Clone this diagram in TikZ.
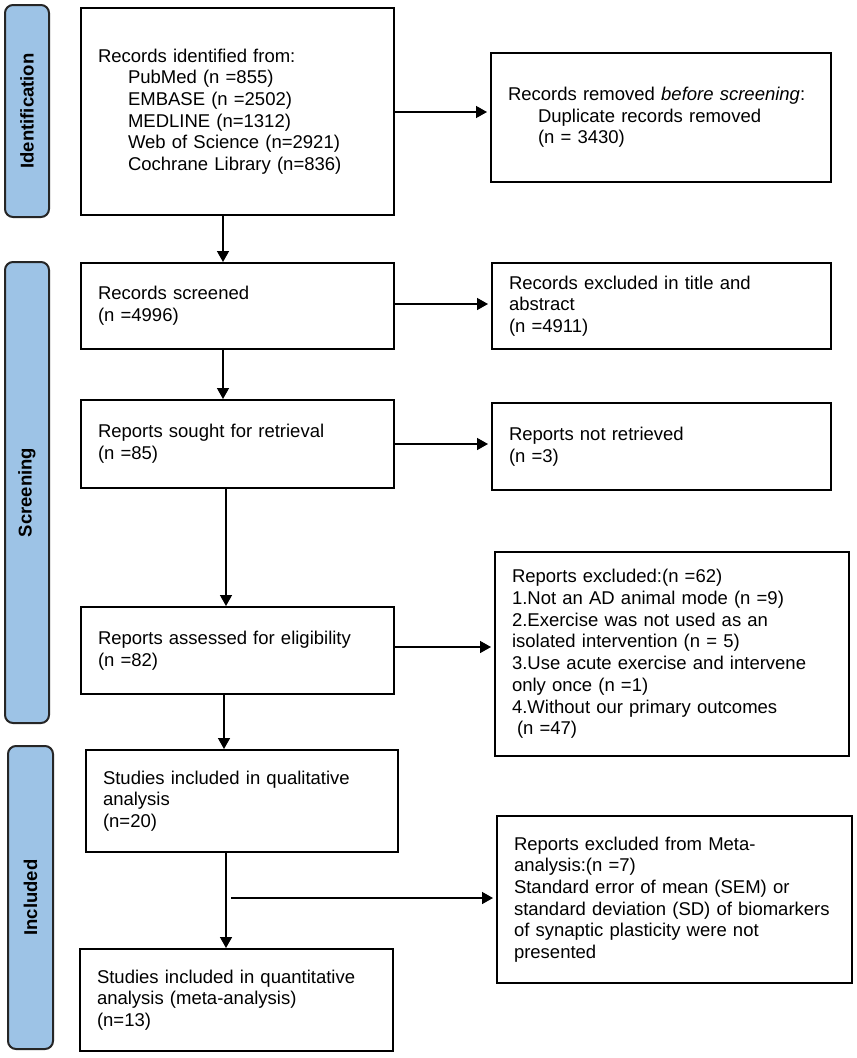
\documentclass[tikz,border=0pt]{standalone}
\usepackage{fontspec}
\setmainfont{Liberation Sans}
\usetikzlibrary{arrows.meta}
\definecolor{sidefill}{HTML}{9DC3E6}
\definecolor{sidedraw}{HTML}{262626}
\begin{document}
\begin{tikzpicture}[x=1pt,y=-1pt,
  every node/.style={font=\fontsize{18.5pt}{21.7pt}\selectfont},
  box/.style={draw=black, line width=2pt, inner xsep=17pt, inner ysep=4pt, align=left, anchor=center},
  side/.style={draw=sidedraw, line width=2pt, fill=sidefill, rounded corners=8pt, rotate=90, anchor=center, inner sep=0pt, font=\fontsize{18.5pt}{21.7pt}\selectfont\bfseries},
  arr/.style={line width=1.5pt, -{Triangle[length=11pt,width=12pt]}}]
\useasboundingbox (0,0) rectangle (857,1058);
\fill[white] (0,0) rectangle (857,1058);

% sidebars
\node[side, minimum width=212pt, minimum height=44pt] (s1) at (27,111) {Identification};
\node[side, minimum width=461pt, minimum height=44pt] (s2) at (27,492.5) {Screening};
\node[side, minimum width=303pt, minimum height=45pt] (s3) at (30.5,897.5) {Included};

% boxes
\node[box, minimum width=313pt, minimum height=207pt, text width=279pt] (b1) at (237.5,111.5)
 {Records identified from:\\\hspace*{30pt}PubMed (n =855)\\\hspace*{30pt}EMBASE (n =2502)\\\hspace*{30pt}MEDLINE (n=1312)\\\hspace*{30pt}Web of Science (n=2921)\\\hspace*{30pt}Cochrane Library (n=836)};
\node[box, minimum width=340pt, minimum height=129pt, text width=306pt] (b2) at (661,117.5)
 {Records removed \textit{before screening}:\\\hspace*{30pt}Duplicate records removed\\\hspace*{30pt}(n = 3430)};
\node[box, minimum width=313pt, minimum height=86pt, text width=279pt] (b3) at (237.5,306)
 {Records screened\\(n =4996)};
\node[box, minimum width=339pt, minimum height=86pt, text width=305pt] (b4) at (661.5,306)
 {Records excluded in title and\\abstract\\(n =4911)};
\node[box, minimum width=313pt, minimum height=88pt, text width=279pt] (b5) at (237.5,444)
 {Reports sought for retrieval\\(n =85)};
\node[box, minimum width=339pt, minimum height=87pt, text width=305pt] (b6) at (661.5,446.5)
 {Reports not retrieved\\(n =3)};
\node[box, minimum width=313pt, minimum height=87pt, text width=279pt] (b7) at (237.5,650.5)
 {Reports assessed for eligibility\\(n =82)};
\node[box, minimum width=354pt, minimum height=204pt, text width=320pt] (b8) at (672,654)
 {Reports excluded:(n =62)\\1.Not an AD animal mode (n =9)\\2.Exercise was not used as an\\isolated intervention (n = 5)\\3.Use acute exercise and intervene\\only once (n =1)\\4.Without our primary outcomes\\\hspace*{5pt}(n =47)};
\node[box, minimum width=312pt, minimum height=102pt, text width=278pt] (b9) at (242,801)
 {Studies included in qualitative\\analysis\\(n=20)};
\node[box, minimum width=313pt, minimum height=102pt, text width=279pt] (b10) at (236.5,1000)
 {Studies included in quantitative\\analysis (meta-analysis)\\(n=13)};
\node[box, minimum width=355pt, minimum height=167pt, text width=321pt] (b11) at (674.5,899.5)
 {Reports excluded from Meta-\\analysis:(n =7)\\Standard error of mean (SEM) or\\standard deviation (SD) of biomarkers\\of synaptic plasticity were not\\presented};

% vertical arrows
\draw[arr] ([xshift=-14.5pt]b1.south) -- ([xshift=-14.5pt]b1.south |- b3.north);
\draw[arr] ([xshift=-14.5pt]b3.south) -- ([xshift=-14.5pt]b3.south |- b5.north);
\draw[arr] ([xshift=-11.5pt]b5.south) -- ([xshift=-11.5pt]b5.south |- b7.north);
\draw[arr] ([xshift=-13.5pt]b7.south) -- ([xshift=-13.5pt]b7.south |- b9.north);
\draw[arr] ([xshift=-16pt]b9.south) -- ([xshift=-16pt]b9.south |- b10.north);

% horizontal arrows
\draw[arr] (b1.east |- 0,112) -- ([xshift=-3pt]b2.west |- 0,112);
\draw[arr] (b3.east |- 0,304) -- ([xshift=-3pt]b4.west |- 0,304);
\draw[arr] (b5.east |- 0,444) -- ([xshift=-3pt]b6.west |- 0,444);
\draw[arr] (b7.east |- 0,647) -- ([xshift=-3pt]b8.west |- 0,647);
\coordinate (br) at (231,898);
\draw[arr] (br) -- ([xshift=-3pt]b11.west |- br);
\end{tikzpicture}
\end{document}
